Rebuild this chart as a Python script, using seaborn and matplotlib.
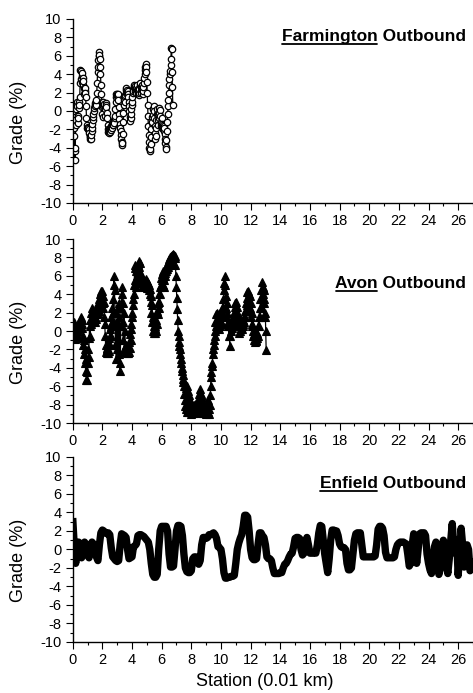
import numpy as np
import pandas as pd
import matplotlib
matplotlib.use("Agg")
import matplotlib.pyplot as plt
import seaborn as sns
from matplotlib.lines import Line2D
from matplotlib.ticker import MultipleLocator, FixedLocator

sns.set_theme(style="ticks")
plt.rcParams["font.family"] = ["Liberation Sans", "DejaVu Sans"]
plt.rcParams["axes.unicode_minus"] = False
plt.rcParams["text.color"] = "black"
plt.rcParams["axes.labelcolor"] = "black"
plt.rcParams["xtick.color"] = "black"
plt.rcParams["ytick.color"] = "black"
plt.rcParams["axes.edgecolor"] = "black"

# ---- grade profiles (percent), sampled at a fixed station spacing ----
FARMINGTON_STEP = 0.025   # 0.01 km stations
farmington_grade = [
    0.5, 0.0, -1.0, -1.8, -2.7, -4.3, -5.3, -4.0, -1.5, 0.2, 0.8, 1.0, 0.5, -0.5, -1.3, -0.8, 0.3, 1.0, 0.6, 1.5,
    3.0, 4.5, 4.3, 3.5, 3.2, 3.8, 4.1, 3.6, 2.8, 3.3, 2.5, 1.8, 2.2, 2.5, 2.0, 1.5, 0.5, -0.8, -1.5, -1.9,
    -2.0, -1.7, -1.9, -2.2, -2.0, -2.4, -2.7, -3.0, -2.8, -3.0, -2.6, -2.2, -1.8, -1.4, -1.0, -0.6, -0.3, 0.0, 0.3, 0.6,
    0.5, 0.9, 1.0, 0.7, 1.2, 2.0, 3.0, 4.2, 4.8, 5.5, 6.0, 6.4, 6.1, 5.6, 4.8, 4.0, 2.8, 1.8, 1.0, 0.4,
    -0.3, -0.7, 0.5, 1.0, 0.6, 0.8, 0.3, -0.5, 0.2, 0.9, 0.7, 0.4, -0.2, -0.8, -1.5, -2.0, -2.3, -2.0, -2.4, -2.2,
    -1.8, -2.3, -2.0, -1.6, -2.1, -1.7, -1.4, -1.8, -1.5, -1.2, -1.5, -1.0, -1.3, -0.8, -0.5, 0.2, 1.0, 1.5, 1.8, 1.6,
    1.9, 1.6, 1.8, 1.2, 0.4, -0.3, -0.9, -1.4, -1.8, -2.2, -2.6, -3.0, -3.4, -3.7, -3.5, -2.5, -1.2, -0.2, 0.6, 1.2,
    1.5, 1.0, 1.7, 2.0, 2.3, 2.5, 2.3, 2.0, 2.2, 1.8, 1.5, 1.0, 0.5, 0.0, -0.6, -1.1, -0.8, -0.3, 0.2, 0.6,
    1.0, 1.5, 2.0, 2.4, 2.2, 2.6, 2.8, 2.5, 2.2, 2.7, 2.4, 2.0, 2.5, 2.8, 2.3, 1.9, 2.4, 2.1, 1.7, 2.0,
    2.4, 2.8, 3.0, 2.6, 2.2, 2.0, 2.4, 2.8, 2.3, 1.8, 2.2, 2.6, 3.0, 3.6, 4.0, 4.5, 4.8, 5.1, 4.8, 4.2,
    3.2, 2.0, 0.7, -0.5, -1.6, -2.6, -3.4, -4.0, -4.3, -4.1, -3.6, -2.8, -2.0, -1.3, -0.6, -1.2, -0.4, 0.2, 0.5, 0.0,
    -0.8, -1.6, -2.4, -3.0, -2.7, -1.8, -1.0, -0.3, 0.2, -0.3, -1.0, -1.5, -0.8, -0.2, 0.3, 0.1, -0.5, -1.2, -1.6, -1.3,
    -0.8, -1.4, -1.9, -1.5, -2.0, -1.6, -2.2, -1.8, -2.5, -3.0, -3.5, -3.9, -4.1, -3.2, -2.2, -1.2, -0.3, 0.5, 1.2, 2.0,
    2.8, 3.5, 4.0, 4.3, 5.0, 5.7, 6.9, 6.7, 4.2, 2.6, 0.7,
]

AVON_STEP = 0.03
avon_grade = [
    0.8, -0.5, 1.0, -0.8, 0.5, -0.9, 0.2, -0.7, -0.3, -0.8,
    -0.4, -0.7, 0.0, -0.6, 0.5, 0.9, 1.2, 0.6, 1.5, 1.3,
    0.8, 1.2, 0.3, -0.5, -1.5, -2.5, -1.0, -3.5, -2.0, -4.3,
    -3.0, -5.3, -4.5, -5.3, -3.5, -2.0, -2.8, -0.8, 0.5, -0.5,
    1.2, 0.8, 2.0, 1.2, 2.5, 2.2, 1.5, 2.0, 1.2, 1.8,
    1.0, 1.5, 2.0, 1.3, 2.5, 1.8, 2.8, 2.0, 3.0, 2.2,
    3.5, 3.0, 4.0, 3.2, 4.4, 3.8, 4.3, 3.0, 3.8, 2.5,
    3.2, 1.5, 0.8, -0.5, -1.5, -2.3, -1.8, -2.4, -2.0, -2.4,
    -1.5, -2.2, -0.8, -1.5, 0.2, -0.5, 1.5, 0.5, 2.5, 1.0,
    3.5, 2.0, 5.0, 6.0, 4.5, 2.0, -1.5, 0.5, -3.0, 1.0,
    -2.0, 2.5, -1.0, 3.0, -2.5, 1.5, -4.3, -3.5, 0.5, 2.5,
    4.0, 4.8, 3.0, 1.0, -1.0, 2.0, -2.0, 0.0, -2.2, -1.5,
    -2.3, -1.8, -2.4, -2.0, -2.4, -1.6, -2.3, -1.2, -1.8, -0.3,
    -1.0, 0.8, 0.2, 2.0, 1.5, 3.5, 2.8, 5.0, 4.0, 6.8,
    7.2, 5.5, 6.5, 4.8, 6.0, 5.2, 6.8, 7.3, 6.5, 7.6,
    7.0, 7.4, 6.0, 5.5, 6.2, 5.2, 5.8, 5.0, 5.5, 4.9,
    5.3, 4.8, 5.4, 5.0, 5.6, 5.0, 5.2, 4.7, 5.4, 4.8,
    5.2, 4.5, 5.0, 4.0, 4.6, 3.2, 3.8, 2.0, 2.8, 1.0,
    1.5, 0.0, 0.5, -0.2, 0.3, -0.2, 0.5, 0.0, 1.2, 0.8,
    2.2, 1.8, 3.0, 2.5, 4.0, 3.2, 4.8, 4.0, 5.8, 5.0,
    6.2, 5.5, 6.5, 5.0, 5.8, 4.8, 5.5, 6.0, 6.3, 6.8,
    6.5, 7.0, 6.7, 7.2, 7.0, 7.5, 7.3, 7.8, 7.5, 8.0,
    7.8, 8.2, 8.0, 8.3, 8.1, 8.4, 8.2, 8.3, 8.0, 8.2,
    7.9, 7.2, 6.0, 4.8, 3.6, 2.4, 1.2, 0.0, -0.5, -1.2,
    -1.6, -2.0, -2.5, -3.0, -3.5, -4.0, -4.4, -4.8, -5.2, -5.5,
    -6.0, -6.8, -7.5, -8.2, -6.2, -8.5, -6.0, -7.8, -8.8, -6.5,
    -8.5, -7.0, -8.8, -7.5, -8.6, -8.0, -9.0, -8.2, -8.8, -8.5,
    -8.9, -8.3, -8.6, -8.0, -8.8, -8.2, -8.5, -7.8, -8.6, -8.9,
    -8.4, -8.8, -7.5, -8.5, -6.8, -8.0, -6.3, -7.5, -6.8, -8.2,
    -7.2, -8.6, -8.0, -8.9, -8.3, -8.8, -8.0, -8.9, -8.5, -9.0,
    -8.2, -8.8, -8.0, -8.6, -7.5, -8.8, -9.0, -8.5, -7.0, -8.0,
    -6.0, -5.0, -4.5, -3.8, -3.5, -2.5, -2.0, -1.0, -1.5, 0.0,
    -0.5, 1.0, 0.5, 1.8, 1.2, 2.0, 1.5, 0.5, 1.8, 0.2,
    1.5, 0.5, 2.0, 1.0, 2.2, 0.8, 2.5, 1.5, 3.5, 2.5,
    4.5, 5.2, 6.0, 5.0, 3.8, 2.5, 3.0, 1.5, 2.0, 0.5,
    1.0, -0.5, 0.5, -1.6, -0.5, 0.5, 0.0, 1.0, 0.3, 1.2,
    0.5, 1.5, 1.0, 2.0, 2.6, 3.0, 2.2, 3.1, 2.0, 2.6,
    1.2, 1.8, 0.5, 1.2, -0.2, 0.8, 0.0, 1.0, 0.3, 1.0,
    0.2, 1.0, 0.5, 1.2, 0.8, 1.5, 1.0, 2.2, 1.5, 3.0,
    2.2, 3.6, 2.8, 4.2, 3.5, 4.4, 4.0, 3.2, 3.8, 2.5,
    3.0, 1.5, 2.0, 0.5, 0.8, -0.5, 0.0, -1.0, -0.3, -1.2,
    -0.5, -1.1, -0.3, -1.0, -0.2, -0.8, 0.5, -0.5, 1.5, 0.5,
    2.5, 1.5, 3.5, 2.5, 4.5, 3.5, 5.3, 4.8, 4.0, 4.5,
    3.0, 3.5, 1.5, 2.0, 0.0, -2.1,
]

ENFIELD_STEP = 0.1
enfield_grade = [
    3.4, 0.5, -1.5, -0.2, 0.8, 0.0, -0.9, -0.3, 0.8, 0.5,
    -0.5, -0.9, 0.2, 0.8, 0.6, 0.3, -0.8, -1.2, 0.5, 1.8,
    2.1, 2.0, 1.8, 1.7, 1.8, 1.6, 0.2, -0.8, -1.0, -1.2,
    -1.3, -1.2, 0.5, 1.7, 1.6, 1.5, 1.3, 0.0, -1.0, -0.9,
    -0.8, 0.3, 0.4, 0.6, 1.5, 1.6, 1.6, 1.5, 1.4, 1.2,
    1.0, 0.8, 0.0, -1.5, -2.7, -3.0, -3.0, -2.7, 0.0, 2.0,
    2.5, 2.5, 2.5, 2.5, 2.0, -0.5, -1.9, -1.9, -1.8, 0.0,
    2.0, 2.6, 2.6, 2.5, 1.5, -0.5, -2.0, -2.4, -2.5, -2.5,
    -2.3, -1.0, -0.8, -0.8, -0.9, -1.6, -1.2, 0.5, 1.3, 1.3,
    1.2, 1.3, 1.6, 1.6, 1.7, 1.8, 1.6, 1.2, 0.3, 0.2,
    0.0, -1.0, -2.5, -3.1, -3.1, -3.0, -3.0, -2.9, -2.9, -2.8,
    -1.5, 0.0, 0.7, 1.2, 1.6, 2.5, 3.7, 3.7, 3.5, 2.0,
    0.0, -0.9, -1.1, -1.1, -1.0, 0.5, 1.8, 1.8, 1.5, 1.3,
    0.5, -0.8, -1.0, -1.0, -1.2, -2.0, -2.6, -2.6, -2.6, -2.6,
    -2.5, -2.5, -2.0, -1.6, -1.5, -1.2, -0.8, -0.5, -0.4, 0.3,
    1.2, 1.3, 1.3, 1.2, 0.0, -0.6, -0.4, 0.8, 1.3, 0.5,
    -0.4, -0.4, -0.4, -0.3, -0.4, 0.5, 1.8, 2.6, 2.5, 1.0,
    -0.5, -1.5, -2.5, -1.0, 1.0, 2.1, 2.1, 2.0, 2.0, 1.5,
    0.6, 0.3, 0.2, 0.2, 0.0, -1.5, -2.2, -2.2, -2.0, -0.5,
    1.0, 1.7, 1.8, 1.8, 1.8, 0.5, -0.8, -0.8, -0.8, -0.8,
    -0.8, -0.8, -0.8, -0.8, -0.7, 0.5, 2.2, 2.5, 2.5, 2.3,
    1.5, -0.3, -0.9, -0.9, -0.9, -0.9, -0.9, -0.8, 0.0, 0.5,
    0.7, 0.8, 0.8, 0.8, 0.7, 0.6, -0.5, -1.8, -1.5, 0.5,
    1.7, 0.5, -1.5, 0.0, 1.7, 1.8, 1.8, 1.8, 1.5, -0.5,
    -1.5, -2.2, -2.6, -1.0, 0.3, 0.8, -0.5, -2.7, -2.0, -0.5,
    1.0, 0.5, -1.5, -2.6, -1.0, 1.0, 2.8, 0.5, -0.4, 1.0,
    -2.8, -0.5, 2.3, 0.5, -1.9, -0.5, 0.5, 0.0, -2.3, -1.5,
    -1.0,
]

route_names = ["Farmington", "Avon", "Enfield"]
x_major_ticks = list(range(0, 27, 2))
y_major_ticks = list(range(-10, 11, 2))


def stations(grade, step):
    return np.round(np.arange(len(grade)) * step, 3)


profiles = [
    pd.DataFrame({"station": stations(farmington_grade, FARMINGTON_STEP), "grade": farmington_grade}),
    pd.DataFrame({"station": stations(avon_grade, AVON_STEP), "grade": avon_grade}),
    pd.DataFrame({"station": stations(enfield_grade, ENFIELD_STEP), "grade": enfield_grade}),
]

line_styles = [
    dict(lw=0.9, marker="o", markersize=4.6, markerfacecolor="white",
         markeredgecolor="black", markeredgewidth=0.9),
    dict(lw=0.9, marker="^", markersize=5.4, markerfacecolor="black",
         markeredgecolor="black", markeredgewidth=0.8),
    dict(lw=5.3, solid_joinstyle="round", solid_capstyle="butt"),
]

# axes rectangles in figure fraction (left, bottom, width, height)
panel_rects = [
    [0.1537, 0.7071, 0.8463, 0.2655],
    [0.1537, 0.3896, 0.8463, 0.2655],
    [0.1537, 0.0736, 0.8463, 0.2670],
]
title_baselines = [0.882, 0.732, 0.831]

fig = plt.figure(figsize=(4.73, 6.93), dpi=100)
fig.patch.set_facecolor("white")

axes = []
for rect, df, style in zip(panel_rects, profiles, line_styles):
    ax = fig.add_axes(rect)
    ax.set_facecolor("white")
    sns.lineplot(data=df, x="station", y="grade", ax=ax, color="black",
                 estimator=None, sort=False, **style)
    ax.set_xlim(0, 27)
    ax.set_ylim(-10, 10)
    ax.xaxis.set_major_locator(FixedLocator(x_major_ticks))
    ax.yaxis.set_major_locator(FixedLocator(y_major_ticks))
    ax.xaxis.set_minor_locator(MultipleLocator(1))
    ax.yaxis.set_minor_locator(MultipleLocator(1))
    ax.tick_params(which="major", direction="out", length=4.8, width=0.8,
                   labelsize=10.5, pad=3.2, colors="black")
    ax.tick_params(which="minor", direction="out", length=2.4, width=0.8)
    for side in ("top", "right"):
        ax.spines[side].set_visible(False)
    for side in ("left", "bottom"):
        ax.spines[side].set_linewidth(1.0)
        ax.spines[side].set_color("black")
    ax.set_xlabel("")
    ax.set_ylabel("Grade (%)", fontsize=13)
    ax.yaxis.set_label_coords(-0.114, 0.44)
    axes.append(ax)

axes[-1].set_xlabel("Station (0.01 km)", fontsize=13)
axes[-1].xaxis.set_label_coords(0.48, -0.17)

# route titles: the town name is underlined
fig.canvas.draw()
renderer = fig.canvas.get_renderer()
to_fig = fig.transFigure.inverted()
title_font = dict(fontsize=12.5, fontweight="bold")
for ax, name, yb in zip(axes, route_names, title_baselines):
    full = ax.text(0.9825, yb, f"{name} Outbound", transform=ax.transAxes,
                   ha="right", va="baseline", **title_font)
    probe = ax.text(0, 0, name, transform=ax.transAxes, **title_font)
    word_w = probe.get_window_extent(renderer).width
    probe.remove()
    bb = full.get_window_extent(renderer)
    base_y = ax.transAxes.transform((0, yb))[1]
    (fx0, fy), (fx1, _) = to_fig.transform([(bb.x0 + 0.5, base_y - 3.0),
                                            (bb.x0 + word_w - 0.5, base_y - 3.0)])
    fig.add_artist(Line2D([fx0, fx1], [fy, fy], transform=fig.transFigure,
                          color="black", lw=1.3))

fig.savefig("out.png", dpi=100, facecolor="white")
